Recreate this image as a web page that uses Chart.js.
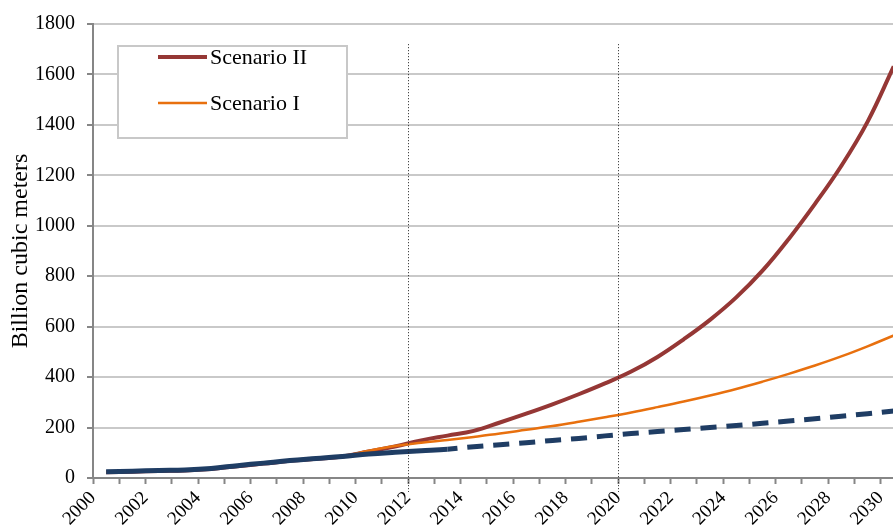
<!DOCTYPE html>
<html>
<head>
<meta charset="utf-8">
<script src="https://cdn.jsdelivr.net/npm/chart.js@4.4.1/dist/chart.umd.min.js"></script>
<style>
  html, body { margin: 0; padding: 0; background: #ffffff; overflow: hidden; }
  #wrap { width: 893px; height: 528px; overflow: hidden; position: relative; }
  canvas { display: block; }
</style>
</head>
<body>
<div id="wrap"><canvas id="chart" width="926" height="528"></canvas></div>
<script>
// Annual gas volumes, billion cubic meters
const years = [2000, 2001, 2002, 2003, 2004, 2005, 2006, 2007, 2008, 2009,
               2010, 2011, 2012, 2013, 2014, 2015, 2016, 2017, 2018, 2019,
               2020, 2021, 2022, 2023, 2024, 2025, 2026, 2027, 2028, 2029, 2030];

// Historical series continued as a trend projection (dashed from projectionStart)
const trend = [25, 27, 30, 32, 38, 49, 59, 69, 77, 85,
               95, 102, 108, 114, 124, 132, 140, 149, 157, 167,
               176, 184, 192, 200, 208, 217, 226, 235, 245, 255, 266];

const scenarioI = [24, 26, 29, 31, 37, 48, 58, 68, 77, 86,
                   108, 127, 140, 151, 163, 176, 191, 206, 223, 241,
                   260, 281, 303, 327, 353, 382, 413, 446, 482, 522, 565];

const scenarioII = [23, 25, 28, 30, 36, 47, 57, 68, 76, 85,
                    105, 125, 149, 168, 187, 220, 255, 292, 332, 375,
                    422, 480, 550, 627, 716, 822, 948, 1087, 1237, 1412, 1632];

const projectionStart = 2013;
const markerYears = [2012, 2020];
const yMax = 1800;
const yStep = 200;
const xLabelStep = 2;

// yearly values sit in the middle of each year's span on the axis
const toPoints = arr => years.map((yr, i) => ({ x: yr + 0.5, y: arr[i] }));

const SERIF = "'Liberation Serif', 'Times New Roman', serif";
const AXIS_GRAY = '#868686';
const GRID_GRAY = '#c9c9c9';

// dotted vertical markers at the chosen years
const markerPlugin = {
  id: 'yearMarkers',
  afterDatasetsDraw(chart) {
    const { ctx, scales: { x, y } } = chart;
    ctx.save();
    ctx.strokeStyle = '#222';
    ctx.lineWidth = 1;
    ctx.setLineDash([1, 2]);
    markerYears.forEach(yr => {
      const px = Math.round(x.getPixelForValue(yr)) + 0.5;
      ctx.beginPath();
      ctx.moveTo(px, y.getPixelForValue(1720));
      ctx.lineTo(px, y.bottom + 14);
      ctx.stroke();
    });
    ctx.restore();
  }
};

// framed legend inside the plot area
const legendPlugin = {
  id: 'boxLegend',
  beforeDatasetsDraw(chart) {
    const ctx = chart.ctx;
    const bx = 118, by = 46, bw = 229, bh = 92;
    ctx.save();
    ctx.fillStyle = '#ffffff';
    ctx.fillRect(bx, by, bw, bh);
    ctx.strokeStyle = '#c8c8c8';
    ctx.lineWidth = 2;
    ctx.strokeRect(bx, by, bw, bh);
    const entries = chart.data.datasets.filter(d => d.legendRow !== undefined)
      .sort((a, b) => a.legendRow - b.legendRow);
    entries.forEach((ds, i) => {
      const ly = by + 11 + i * 46;
      ctx.strokeStyle = ds.borderColor;
      ctx.lineWidth = ds.legendLineWidth;
      ctx.setLineDash([]);
      ctx.beginPath();
      ctx.moveTo(bx + 40, ly);
      ctx.lineTo(bx + 89, ly);
      ctx.stroke();
      ctx.fillStyle = '#000';
      ctx.font = '22px ' + SERIF;
      ctx.textBaseline = 'middle';
      ctx.textAlign = 'left';
      ctx.fillText(ds.label, bx + 92, ly + 1);
    });
    ctx.restore();
  }
};

new Chart(document.getElementById('chart'), {
  type: 'line',
  data: {
    datasets: [
      {
        label: 'Trend',
        data: toPoints(trend),
        borderColor: '#1F3D64',
        borderWidth: 5,
        borderCapStyle: 'butt',
        pointRadius: 0,
        tension: 0.4,
        segment: {
          borderDash: ctx => (ctx.p0.parsed.x - 0.5 >= projectionStart ? [16, 10] : undefined),
          borderDashOffset: ctx => (ctx.p0.parsed.x - 0.5 >= projectionStart ? 6 : 0)
        }
      },
      {
        label: 'Scenario I',
        data: toPoints(scenarioI),
        borderColor: '#E8700E',
        borderWidth: 2.5,
        pointRadius: 0,
        tension: 0.4,
        legendRow: 1,
        legendLineWidth: 2.5
      },
      {
        label: 'Scenario II',
        data: toPoints(scenarioII),
        borderColor: '#953735',
        borderWidth: 4,
        pointRadius: 0,
        tension: 0.4,
        legendRow: 0,
        legendLineWidth: 4
      }
    ]
  },
  options: {
    responsive: false,
    animation: false,
    devicePixelRatio: 1,
    layout: { padding: { left: 0, top: 21, right: 4, bottom: 0 } },
    plugins: { legend: { display: false }, tooltip: { enabled: false } },
    scales: {
      x: {
        type: 'linear',
        min: 2000,
        max: 2031,
        afterFit: s => { s.height = 50; },
        grid: {
          drawOnChartArea: false,
          drawTicks: true,
          tickLength: 6,
          tickColor: AXIS_GRAY,
          tickWidth: 2
        },
        border: { display: true, color: AXIS_GRAY, width: 2 },
        ticks: {
          stepSize: 1,
          autoSkip: false,
          maxTicksLimit: 100,
          maxRotation: 45,
          minRotation: 45,
          padding: 3,
          color: '#000',
          font: { family: SERIF, size: 19 },
          callback: v => ((v - years[0]) % xLabelStep === 0 ? String(v) : '')
        }
      },
      y: {
        min: 0,
        max: yMax,
        afterFit: s => { s.width = 93; },
        grid: {
          color: c => (c.tick && c.tick.value === 0 ? 'rgba(0,0,0,0)' : GRID_GRAY),
          lineWidth: 2,
          drawTicks: true,
          tickLength: 6,
          tickColor: AXIS_GRAY,
          tickWidth: 2
        },
        border: { display: true, color: AXIS_GRAY, width: 2 },
        ticks: {
          stepSize: yStep,
          padding: 12,
          color: '#000',
          font: { family: SERIF, size: 20 },
          callback: v => String(v)
        },
        title: {
          display: true,
          text: 'Billion cubic meters',
          color: '#000',
          font: { family: SERIF, size: 24 },
          padding: { top: 6, bottom: 0 }
        }
      }
    }
  },
  plugins: [markerPlugin, legendPlugin]
});
</script>
</body>
</html>
